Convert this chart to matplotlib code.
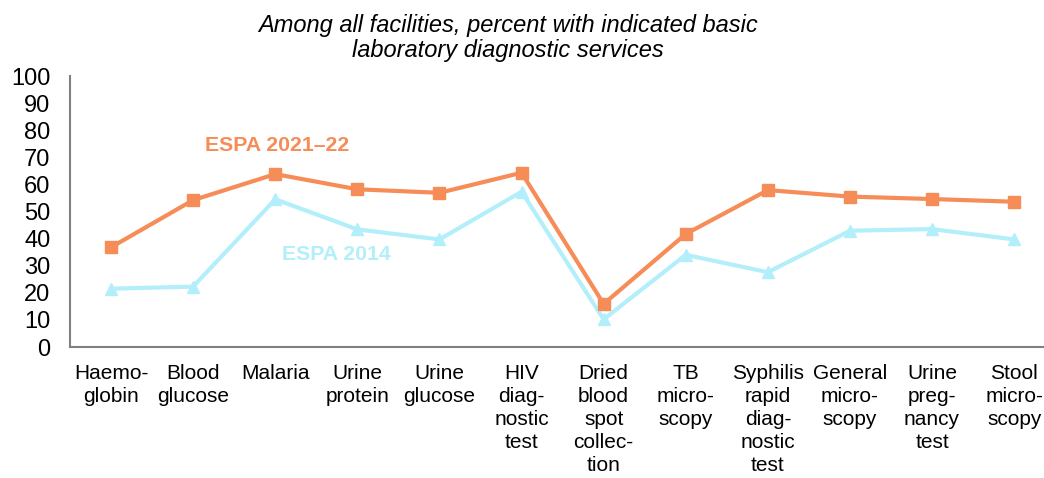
import matplotlib
matplotlib.use("Agg")
import matplotlib.pyplot as plt

plt.rcParams['font.family'] = ['Liberation Sans', 'DejaVu Sans']

categories = ['Haemo-\nglobin', 'Blood\nglucose', 'Malaria', 'Urine\nprotein', 'Urine\nglucose',
              'HIV\ndiag-\nnostic\ntest', 'Dried\nblood\nspot\ncollec-\ntion', 'TB\nmicro-\nscopy',
              'Syphilis\nrapid\ndiag-\nnostic\ntest', 'General\nmicro-\nscopy', 'Urine\npreg-\nnancy\ntest',
              'Stool\nmicro-\nscopy']
espa_2021 = [36.8, 54.2, 63.8, 58.2, 56.9, 64.3, 15.9, 41.7, 57.9, 55.5, 54.6, 53.6]
espa_2014 = [21.5, 22.3, 54.5, 43.4, 39.7, 57.3, 10.2, 34.0, 27.6, 42.9, 43.5, 39.7]

orange = '#F68D58'
blue = '#B3EFFB'

W, H = 1044, 478
fig = plt.figure(figsize=(W / 100, H / 100), dpi=100)
ax = fig.add_axes([70 / W, 131 / H, (W - 70) / W, 271 / H])

x = list(range(len(categories)))
ax.plot(x, espa_2014, color=blue, lw=3, marker='^', ms=9, zorder=2)
ax.plot(x, espa_2021, color=orange, lw=3, marker='s', ms=9, zorder=3)

ax.set_xlim(-0.5, -0.5 + (W - 70) / 82.1)
ax.set_ylim(0, 100)
ax.set_yticks(range(0, 101, 10))
ax.set_xticks(x)
ax.set_xticklabels(categories, linespacing=1.28)
ax.tick_params(axis='both', length=0)
ax.tick_params(axis='y', pad=14, labelsize=17)
ax.tick_params(axis='x', pad=12, labelsize=15)
for s in ['top', 'right']:
    ax.spines[s].set_visible(False)
for s in ['left', 'bottom']:
    ax.spines[s].set_color('#808080')
    ax.spines[s].set_linewidth(1.5)

ax.text(2.02, 74.5, 'ESPA 2021\u201322', color=orange, fontsize=15.3, fontweight='bold',
        ha='center', va='center')
ax.text(2.75, 34.0, 'ESPA 2014', color=blue, fontsize=15.3, fontweight='bold',
        ha='center', va='center')

fig.text(508 / W, 1 - 38 / H, 'Among all facilities, percent with indicated basic\nlaboratory diagnostic services',
         ha='center', va='center', fontsize=17, style='italic', linespacing=1.15)

fig.savefig('out.png', dpi=100)
